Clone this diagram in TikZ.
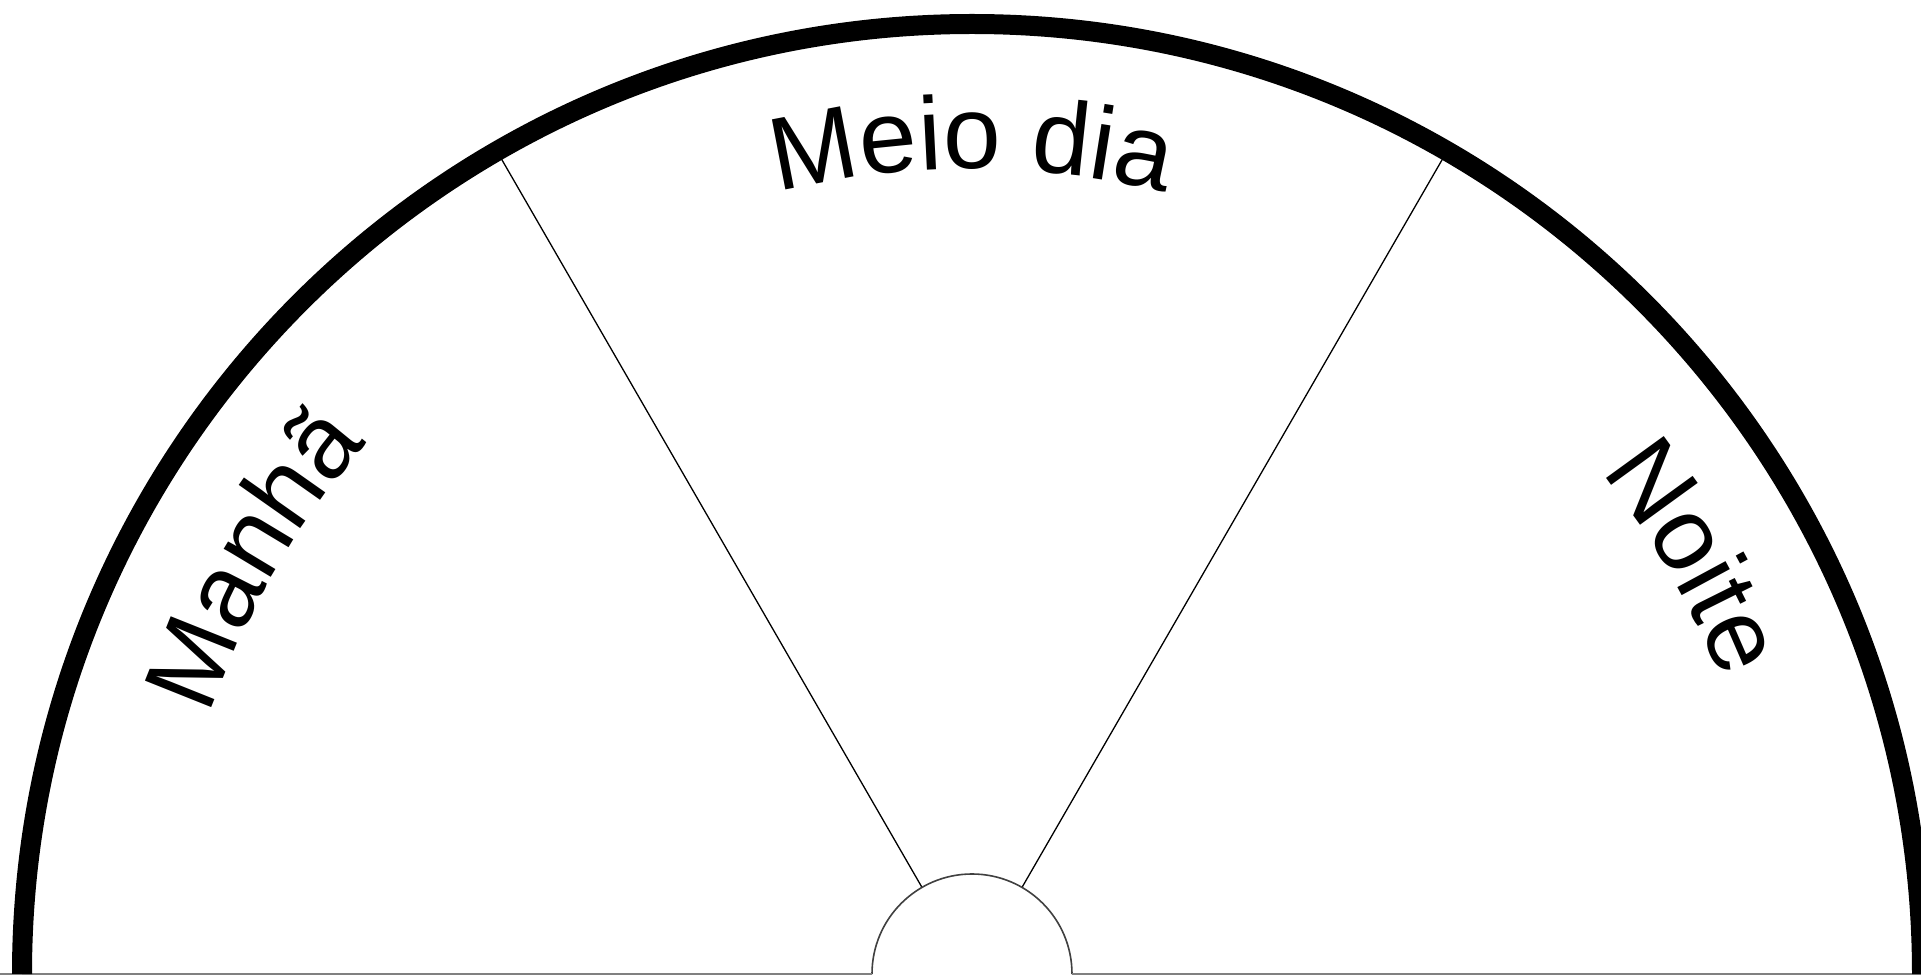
\documentclass[tikz,border=0pt]{standalone}
\usepackage{fontspec}
\setmainfont{Liberation Sans}
\usetikzlibrary{calc}
\tikzset{
  rim/.style={line width=0.2cm, black},
  divider/.style={line width=0.013cm, black},
  hub/.style={line width=0.016cm, black!75},
  groundline/.style={line width=0.02cm, black!50},
  glyph/.style={font=\fontsize{29.5}{33}\selectfont, inner sep=0pt, outer sep=0pt, anchor=base}
}
\begin{document}
\begin{tikzpicture}
\clip (0,0) rectangle (19.21,9.75);
\fill[white] (0,0) rectangle (19.21,9.75);
\coordinate (O) at (9.72,0.01);
\coordinate (L) at ($(O)+(180:9.5)$);
\coordinate (hL) at ($(O)+(180:1)$);
\coordinate (hR) at ($(O)+(0:1)$);
\coordinate (i1) at ($(O)+(120:1)$);
\coordinate (o1) at ($(O)+(120:9.5)$);
\coordinate (i2) at ($(O)+(60:1)$);
\coordinate (o2) at ($(O)+(60:9.5)$);
\coordinate (gL) at (0,0.01);
\coordinate (gR) at (19.21,0.01);
% dividers
\draw[divider] (i1) -- (o1);
\draw[divider] (i2) -- (o2);
% hub
\draw[hub] (hL) arc[start angle=180,end angle=0,radius=1];
% ground line
\draw[groundline] (gL) -- (hL);
\draw[groundline] (hR) -- (gR);
% rim
\draw[rim] (L) arc[start angle=180,end angle=0,radius=9.5];
% labels, one glyph at a time along an arc of radius 8.05
\foreach \a/\c [count=\k] in {158.21/M,153.08/a,148.98/n,144.88/h,140.77/ã}
  \node[glyph, rotate=\a-90] (manha\k) at ($(O)+(\a:8.05)$) {\c};
\foreach \a/\c [count=\k] in {100.87/M,95.74/e,92.87/i,90.00/o,83.85/d,80.98/i,78.11/a}
  \node[glyph, rotate=\a-90] (meio\k) at ($(O)+(\a:8.05)$) {\c};
\foreach \a/\c [count=\k] in {35.95/N,31.23/o,28.36/i,26.52/t,23.44/e}
  \node[glyph, rotate=\a-90] (noite\k) at ($(O)+(\a:8.05)$) {\c};
\end{tikzpicture}
\end{document}
